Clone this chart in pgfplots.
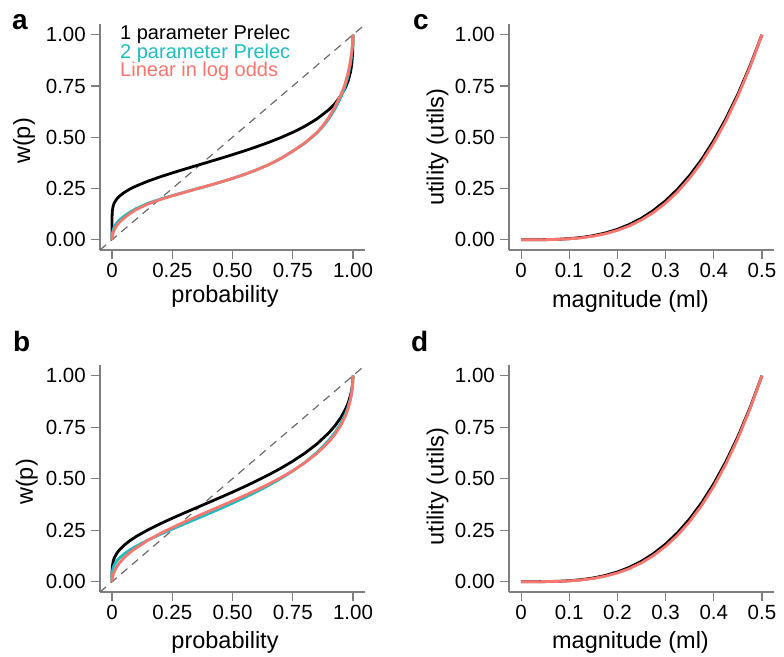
\documentclass[border=0pt]{standalone}
\usepackage{pgfplots}
\pgfplotsset{compat=1.18}
\usepackage{fontspec}
\setmainfont{Liberation Sans}
\definecolor{axgray}{HTML}{7F7F7F}
\definecolor{dashgray}{HTML}{6A6A6A}
\definecolor{mycyan}{HTML}{1DBDC1}
\definecolor{myred}{HTML}{F8766D}
\pgfplotsset{
  rplot/.style={
    scale only axis,
    width=265pt,
    axis lines*=left,
    axis line style={draw=axgray, line width=1.1pt},
    tick style={draw=axgray, line width=1.1pt},
    tick align=outside,
    major tick length=9pt,
    tick label style={font=\fontsize{20.5}{24}\selectfont, text=black},
    xticklabel style={anchor=north, inner sep=0pt, yshift=-4pt},
    yticklabel style={anchor=east, inner sep=0pt, xshift=-5pt},
    label style={font=\fontsize{23.5}{28}\selectfont},
    /pgf/number format/assume math mode=true,
    ymin=-0.05, ymax=1.05,
    ytick={0,0.25,0.5,0.75,1}, yticklabels={0.00,0.25,0.50,0.75,1.00},
  },
  pw/.style={rplot, xmin=-0.05, xmax=1.05,
    xtick={0,0.25,0.5,0.75,1}, xticklabels={0,0.25,0.50,0.75,1.00},
    xlabel={probability}, ylabel={w(p)}},
  ut/.style={rplot, xmin=-0.025, xmax=0.525,
    xtick={0,0.1,0.2,0.3,0.4,0.5}, xticklabels={0,0.1,0.2,0.3,0.4,0.5},
    xlabel={magnitude (ml)}, ylabel={utility (utils)}},
  bl/.style={black, line width=2.8pt, line join=round},
  cy/.style={mycyan, line width=2.8pt, line join=round},
  rd/.style={myred, line width=2.8pt, line join=round},
  dg/.style={dashgray, line width=1.2pt, dash pattern=on 8pt off 6pt},
}
\begin{document}
\begin{tikzpicture}
\useasboundingbox (0,0) rectangle (784pt,656pt);
% ---------------- panel a
\begin{axis}[pw, at={(100pt,406pt)}, anchor=south west, height=225.5pt,
  xlabel style={at={(axis description cs:0.4717,-0.235)}, anchor=base},
  ylabel style={at={(axis description cs:-0.264,0.4834)}, anchor=base}]
\addplot[dg] coordinates {(-0.05,-0.05) (1.05,1.05)};
\addplot[bl] coordinates {(0,0) (0.0001,0.1136) (0.001,0.1399) (0.005,0.1666) (0.01,0.1815) (0.02,0.1995) (0.03,0.2120) (0.05,0.2303) (0.075,0.2478) (0.1,0.2621) (0.15,0.2862) (0.2,0.3069) (0.25,0.3259) (0.3,0.3440) (0.35,0.3616) (0.4,0.3791) (0.45,0.3968) (0.5,0.4150) (0.55,0.4338) (0.6,0.4536) (0.65,0.4749) (0.7,0.4980) (0.75,0.5239) (0.8,0.5534) (0.85,0.5889) (0.9,0.6345) (0.925,0.6640) (0.95,0.7022) (0.97,0.7449) (0.98,0.7747) (0.99,0.8188) (0.995,0.8550) (0.999,0.9148) (0.9999,0.9610) (1,1)};
\addplot[cy] coordinates {(0,0) (0.001,0.03) (0.005,0.05) (0.01,0.065) (0.02,0.083) (0.03,0.096) (0.05,0.115) (0.075,0.135) (0.1,0.152) (0.15,0.178) (0.2,0.198) (0.25,0.215) (0.3,0.232) (0.35,0.248) (0.4,0.264) (0.45,0.281) (0.5,0.299) (0.55,0.319) (0.6,0.341) (0.65,0.366) (0.7,0.396) (0.75,0.432) (0.8,0.471) (0.85,0.52) (0.875,0.552) (0.9,0.59) (0.925,0.638) (0.95,0.695) (0.965,0.74) (0.98,0.8) (0.99,0.86) (0.995,0.905) (0.999,0.96) (1,1)};
\addplot[rd] coordinates {(0,0) (0.002,0.02) (0.005,0.035) (0.01,0.05) (0.02,0.07) (0.03,0.085) (0.05,0.105) (0.075,0.128) (0.1,0.147) (0.15,0.175) (0.2,0.196) (0.25,0.214) (0.3,0.231) (0.35,0.248) (0.4,0.264) (0.45,0.281) (0.5,0.299) (0.55,0.319) (0.6,0.341) (0.65,0.366) (0.7,0.396) (0.75,0.432) (0.8,0.472) (0.85,0.522) (0.875,0.556) (0.9,0.597) (0.925,0.648) (0.95,0.708) (0.965,0.752) (0.98,0.815) (0.99,0.875) (0.995,0.918) (0.999,0.965) (1,1)};
\end{axis}
% ---------------- panel b
\begin{axis}[pw, at={(100pt,64pt)}, anchor=south west, height=226.6pt,
  xlabel style={at={(axis description cs:0.4717,-0.2515)}, anchor=base},
  ylabel style={at={(axis description cs:-0.253,0.4854)}, anchor=base}]
\addplot[dg] coordinates {(-0.05,-0.05) (1.05,1.05)};
\addplot[bl] coordinates {(0,0) (0.0001,0.0481) (0.001,0.0722) (0.005,0.1001) (0.01,0.1170) (0.02,0.1383) (0.03,0.1537) (0.05,0.1771) (0.075,0.2000) (0.1,0.2193) (0.15,0.2522) (0.2,0.2812) (0.25,0.3081) (0.3,0.3338) (0.35,0.3589) (0.4,0.3840) (0.45,0.4092) (0.5,0.4349) (0.55,0.4615) (0.6,0.4894) (0.65,0.5187) (0.7,0.5503) (0.75,0.5849) (0.8,0.6235) (0.85,0.6682) (0.9,0.7228) (0.925,0.7564) (0.95,0.7973) (0.97,0.8399) (0.98,0.8675) (0.99,0.9046) (0.995,0.9317) (0.999,0.9689) (1,1)};
\addplot[cy] coordinates {(0,0) (0.0001,0.0297) (0.001,0.0475) (0.005,0.0694) (0.01,0.0831) (0.02,0.1010) (0.03,0.1141) (0.05,0.1345) (0.075,0.1548) (0.1,0.1723) (0.15,0.2026) (0.2,0.2298) (0.25,0.2555) (0.3,0.2803) (0.35,0.3050) (0.4,0.3298) (0.45,0.3550) (0.5,0.3810) (0.55,0.4082) (0.6,0.4368) (0.65,0.4673) (0.7,0.5005) (0.75,0.5370) (0.8,0.5784) (0.85,0.6268) (0.9,0.6865) (0.925,0.7236) (0.95,0.7691) (0.97,0.8169) (0.98,0.8481) (0.99,0.8903) (0.995,0.9212) (0.999,0.9640) (1,1)};
\addplot[rd] coordinates {(0,0) (0.001,0.0152) (0.005,0.0357) (0.01,0.0512) (0.02,0.0731) (0.03,0.0898) (0.05,0.1162) (0.075,0.1424) (0.1,0.1636) (0.15,0.2018) (0.2,0.2338) (0.25,0.2627) (0.3,0.2899) (0.35,0.3159) (0.4,0.3413) (0.45,0.3666) (0.5,0.3921) (0.55,0.4182) (0.6,0.4453) (0.65,0.4740) (0.7,0.5048) (0.75,0.5386) (0.8,0.5769) (0.85,0.6220) (0.9,0.6788) (0.925,0.7147) (0.95,0.7598) (0.97,0.8082) (0.98,0.8406) (0.99,0.8852) (0.995,0.9183) (0.999,0.9641) (1,1)};
\end{axis}
% ---------------- panel c
\begin{axis}[ut, at={(509pt,406pt)}, anchor=south west, height=225.5pt,
  xlabel style={at={(axis description cs:0.4585,-0.255)}, anchor=base},
  ylabel style={at={(axis description cs:-0.2468,0.456)}, anchor=base}]
\addplot[bl] coordinates {(0,0) (0.025,0.000059) (0.05,0.000562) (0.075,0.00210) (0.1,0.00535) (0.125,0.01105) (0.15,0.01998) (0.175,0.03298) (0.2,0.05090) (0.225,0.07465) (0.25,0.10512) (0.275,0.14330) (0.3,0.19011) (0.325,0.24659) (0.35,0.31372) (0.375,0.39259) (0.4,0.48427) (0.425,0.58972) (0.45,0.70995) (0.475,0.84645) (0.5,1)};
\addplot[rd] coordinates {(0,0) (0.025,0.000041) (0.05,0.000426) (0.075,0.00167) (0.1,0.00441) (0.125,0.00935) (0.15,0.01730) (0.175,0.02907) (0.2,0.04561) (0.225,0.06783) (0.25,0.09673) (0.275,0.13337) (0.3,0.17881) (0.325,0.23417) (0.35,0.30057) (0.375,0.37928) (0.4,0.47153) (0.425,0.57834) (0.45,0.70101) (0.475,0.84122) (0.5,1)};
\end{axis}
% ---------------- panel d
\begin{axis}[ut, at={(509pt,64pt)}, anchor=south west, height=226.6pt,
  xlabel style={at={(axis description cs:0.4585,-0.2515)}, anchor=base},
  ylabel style={at={(axis description cs:-0.2468,0.4647)}, anchor=base}]
\addplot[bl] coordinates {(0,0) (0.025,0.0000466) (0.05,0.000468) (0.075,0.00180) (0.1,0.00470) (0.125,0.00989) (0.15,0.01815) (0.175,0.03032) (0.2,0.04730) (0.225,0.07003) (0.25,0.09946) (0.275,0.13660) (0.3,0.18250) (0.325,0.23823) (0.35,0.30490) (0.375,0.38364) (0.4,0.47573) (0.425,0.58212) (0.45,0.70398) (0.475,0.84299) (0.5,1)};
\addplot[rd] coordinates {(0,0) (0.025,0.0000325) (0.05,0.000355) (0.075,0.00144) (0.1,0.00388) (0.125,0.00837) (0.15,0.01571) (0.175,0.02673) (0.2,0.04239) (0.225,0.06362) (0.25,0.09153) (0.275,0.12717) (0.3,0.17166) (0.325,0.22622) (0.35,0.29212) (0.375,0.37063) (0.4,0.46316) (0.425,0.57087) (0.45,0.69516) (0.475,0.83778) (0.5,1)};
\end{axis}
% ---------------- legend of panel a
\node[anchor=base west, inner sep=0pt, font=\fontsize{20}{24}\selectfont, text=black] at (120pt,616pt) {1 parameter Prelec};
\node[anchor=base west, inner sep=0pt, font=\fontsize{20}{24}\selectfont, text=mycyan] at (120pt,597.5pt) {2 parameter Prelec};
\node[anchor=base west, inner sep=0pt, font=\fontsize{20}{24}\selectfont, text=myred] at (120pt,579pt) {Linear in log odds};
% ---------------- panel letters
\node[anchor=base west, inner sep=0pt, font=\fontsize{28}{32}\selectfont\bfseries] at (12pt,626pt) {a};
\node[anchor=base west, inner sep=0pt, font=\fontsize{28}{32}\selectfont\bfseries] at (13pt,304pt) {b};
\node[anchor=base west, inner sep=0pt, font=\fontsize{28}{32}\selectfont\bfseries] at (413pt,626pt) {c};
\node[anchor=base west, inner sep=0pt, font=\fontsize{28}{32}\selectfont\bfseries] at (411pt,304pt) {d};
\end{tikzpicture}
\end{document}
